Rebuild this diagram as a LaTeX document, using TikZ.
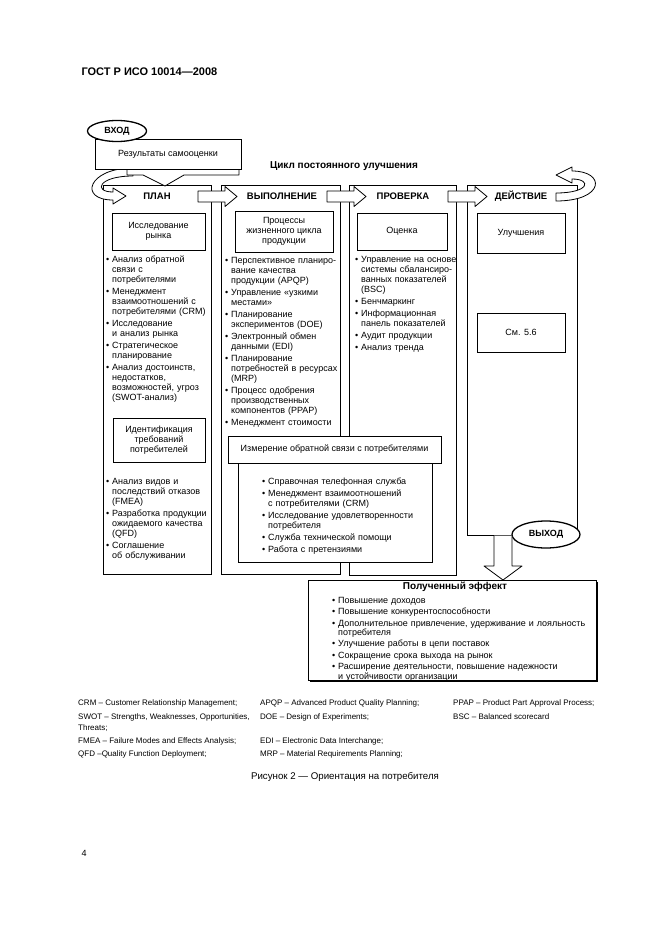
\documentclass[tikz,border=0pt]{standalone}
\usepackage{fontspec}
\setmainfont{Liberation Sans}
\usetikzlibrary{shapes.geometric,shadows}
\newcommand{\bitem}[1]{\par\hangindent=6pt\hangafter=1\noindent\makebox[6pt][l]{\textbullet}#1}
\begin{document}
\begin{tikzpicture}[x=1pt,y=-1pt]
  \tikzstyle{column}=[draw,line width=0.8pt,inner sep=0pt]
  \tikzstyle{inbox}=[draw,line width=0.8pt,fill=white,align=center,inner sep=0pt,font=\fontsize{9}{10}\selectfont]
  \tikzstyle{oval}=[ellipse,draw,line width=1.3pt,fill=white,inner sep=0pt,font=\bfseries\fontsize{9}{10}\selectfont]
  \tikzstyle{stage}=[font=\bfseries\fontsize{9.5}{10}\selectfont]
  \tikzstyle{list}=[anchor=north west,inner sep=0pt,text width=160pt,font=\fontsize{9}{10}\selectfont,execute at begin node={\setlength{\parskip}{2pt}}]
  \tikzstyle{note}=[anchor=base west,inner sep=0pt,font=\fontsize{8}{10}\selectfont]
  \tikzstyle{blockarrow}=[draw,line width=0.8pt,fill=white,line join=round]
  \useasboundingbox (0,0) rectangle (661,936);

  \node [anchor=base west,font=\bfseries\fontsize{11}{13}\selectfont] (gost) at (78,76) {ГОСТ Р ИСО 10014—2008};

  % columns of the cycle
  \node [column,minimum width=108pt,minimum height=389pt] (plan) at (157,379.5) {};
  \node [column,minimum width=119pt,minimum height=389pt] (do) at (280.5,379.5) {};
  \node [column,minimum width=107pt,minimum height=390pt] (check) at (402.5,380) {};
  \node [column,minimum width=110pt,minimum height=350pt] (act) at (522,360) {};
  \node [stage] (lplan) at (157,196) {ПЛАН};
  \node [stage] (ldo) at (282,196) {ВЫПОЛНЕНИЕ};
  \node [stage] (lcheck) at (403,196) {ПРОВЕРКА};
  \node [stage] (lact) at (521,196) {ДЕЙСТВИЕ};
  \foreach \x in {198,327,448}
    \draw [blockarrow] (\x,191) -- ++(27,0) -- ++(0,-4.5) -- ++(12,10) -- ++(-12,10) -- ++(0,-4.5) -- ++(-27,0) -- cycle;

  % ПЛАН
  \node [inbox,minimum width=93pt,minimum height=37pt] (market) at (158.5,231.5) {Исследование\\рынка};
  \node [list] (plana) at (106,250) {
    \bitem{Анализ обратной\newline связи с\newline потребителями}
    \bitem{Менеджмент\newline взаимоотношений с\newline потребителями (CRM)}
    \bitem{Исследование\newline и анализ рынка}
    \bitem{Стратегическое\newline планирование}
    \bitem{Анализ достоинств,\newline недостатков,\newline возможностей, угроз\newline (SWOT-анализ)}\par};
  \node [inbox,minimum width=92pt,minimum height=44pt] (ident) at (159,440) {Идентификация\\требований\\потребителей};
  \node [list] (planb) at (106,472) {
    \bitem{Анализ видов и\newline последствий отказов\newline (FMEA)}
    \bitem{Разработка продукции\newline ожидаемого качества\newline (QFD)}
    \bitem{Соглашение\newline об обслуживании}\par};

  % ВЫПОЛНЕНИЕ
  \node [inbox,minimum width=98pt,minimum height=41pt] (proc) at (284,231.5) {Процессы\\жизненного цикла\\продукции};
  \node [list] (doa) at (225,251) {
    \bitem{Перспективное планиро-\newline вание качества\newline продукции (APQP)}
    \bitem{Управление «узкими\newline местами»}
    \bitem{Планирование\newline экспериментов (DOE)}
    \bitem{Электронный обмен\newline данными (EDI)}
    \bitem{Планирование\newline потребностей в ресурсах\newline (MRP)}
    \bitem{Процесс одобрения\newline производственных\newline компонентов (PPAP)}
    \bitem{Менеджмент стоимости}\par};

  % ПРОВЕРКА
  \node [inbox,minimum width=90pt,minimum height=37pt] (eval) at (402,231.5) {Оценка};
  \node [list] (checka) at (355,250) {
    \bitem{Управление на основе\newline системы сбалансиро-\newline ванных показателей\newline (BSC)}
    \bitem{Бенчмаркинг}
    \bitem{Информационная\newline панель показателей}
    \bitem{Аудит продукции}
    \bitem{Анализ тренда}\par};

  % ДЕЙСТВИЕ
  \node [inbox,minimum width=88pt,minimum height=40pt] (impr) at (521,233) {Улучшения};
  \node [inbox,minimum width=88pt,minimum height=39pt] (see) at (521,332.5) {См. 5.6};

  % feedback
  \node [inbox,minimum width=194pt,minimum height=99pt] (measbody) at (335,512.5) {};
  \node [inbox,minimum width=213pt,minimum height=27pt] (meas) at (334.5,449.5) {Измерение обратной связи с потребителями};
  \node [list] (measa) at (262,472) {
    \bitem{Справочная телефонная служба}
    \bitem{Менеджмент взаимоотношений\newline с потребителями (CRM)}
    \bitem{Исследование удовлетворенности\newline потребителя}
    \bitem{Служба технической помощи}
    \bitem{Работа с претензиями}\par};

  % input
  \draw [blockarrow] (133,168) .. controls (88,168) and (78,200) .. (113,200) -- (113,204) -- (126,196) -- (113,188) -- (113,192) .. controls (93,192) and (98,176) .. (133,176) -- cycle;
  \draw [blockarrow] (127,169) -- (127,175) -- (143,175) -- (165,186) -- (184,175) -- (239,175) -- (239,169);
  \node [inbox,minimum width=146pt,minimum height=30pt] (results) at (168,154) {Результаты самооценки};
  \node [oval,minimum width=59pt,minimum height=21pt] (in) at (117,131) {ВХОД};
  \node [font=\bfseries\fontsize{10}{12}\selectfont] (cycle) at (344,166) {Цикл постоянного улучшения};
  \draw [blockarrow] (556,201) .. controls (605,201) and (606,171) .. (572,171) -- (572,167) -- (556,175) -- (572,183) -- (572,179) .. controls (592,179) and (590,193) .. (556,193) -- cycle;

  % output
  \node [oval,minimum width=68pt,minimum height=27pt] (out) at (546,534.5) {ВЫХОД};
  \draw [blockarrow] (494,535.5) -- (494,566) -- (484,566) -- (503,580) -- (522,566) -- (512,566) -- (512,535.5);
  \node [draw,line width=0.8pt,fill=white,inner sep=0pt,minimum width=288pt,minimum height=100pt,drop shadow={shadow xshift=1.5pt,shadow yshift=-1.5pt,fill=black,opacity=1}] (effect) at (452,630) {};
  \node [font=\bfseries\fontsize{10}{12}\selectfont] (effhead) at (455,587) {Полученный эффект};
  \node [list,text width=270pt,font=\fontsize{9}{9.5}\selectfont,execute at begin node={\setlength{\parskip}{1.8pt}}] (effa) at (332,592) {
    \bitem{Повышение доходов}
    \bitem{Повышение конкурентоспособности}
    \bitem{Дополнительное привлечение, удерживание и лояльность\newline потребителя}
    \bitem{Улучшение работы в цепи поставок}
    \bitem{Сокращение срока выхода на рынок}
    \bitem{Расширение деятельности, повышение надежности\newline и устойчивости организации}\par};

  % abbreviations
  \node [note] (n1) at (78,705) {CRM – Customer Relationship Management;};
  \node [note] (n2) at (78,719) {SWOT – Strengths, Weaknesses, Opportunities,};
  \node [note] (n3) at (78,730) {Threats;};
  \node [note] (n4) at (78,743) {FMEA – Failure Modes and Effects Analysis;};
  \node [note] (n5) at (78,756) {QFD –Quality Function Deployment;};
  \node [note] (n6) at (260,705) {APQP – Advanced Product Quality Planning;};
  \node [note] (n7) at (260,719) {DOE – Design of Experiments;};
  \node [note] (n8) at (260,743) {EDI – Electronic Data Interchange;};
  \node [note] (n9) at (260,756) {MRP – Material Requirements Planning;};
  \node [note] (n10) at (453,705) {PPAP – Product Part Approval Process;};
  \node [note] (n11) at (453,719) {BSC – Balanced scorecard};
  \node [font=\fontsize{9.7}{11}\selectfont] (caption) at (345,777) {Рисунок 2 — Ориентация на потребителя};
  \node [anchor=base west,font=\fontsize{9}{11}\selectfont] (page) at (78,856) {4};
\end{tikzpicture}
\end{document}
